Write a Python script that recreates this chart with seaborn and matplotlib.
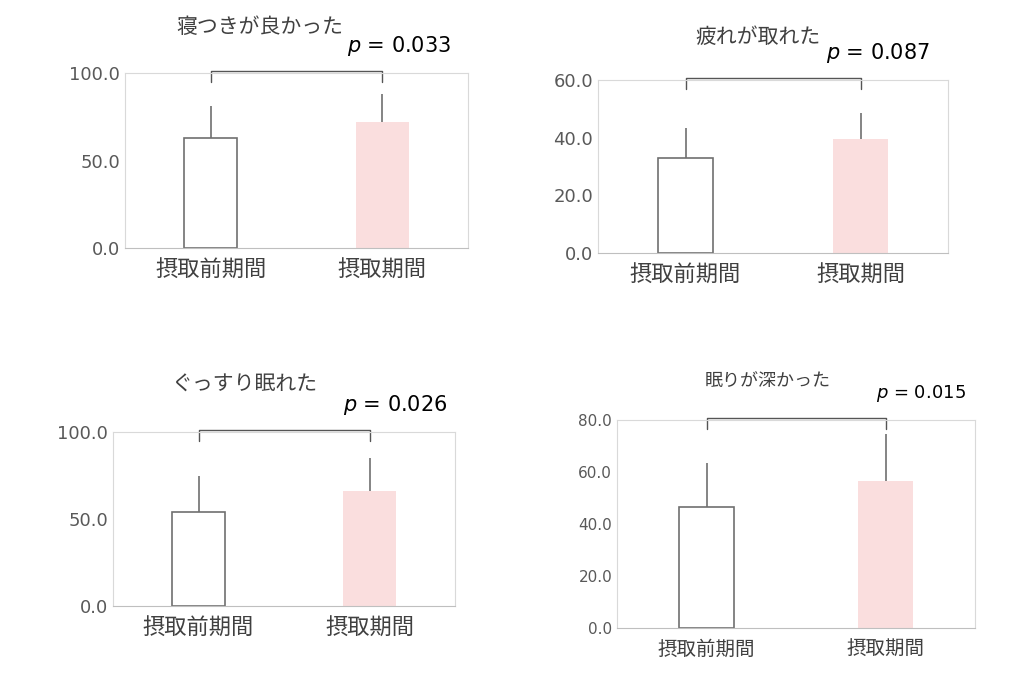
import matplotlib
matplotlib.use("Agg")
import matplotlib.pyplot as plt
import seaborn as sns
import pandas as pd

sns.set_style("white")
plt.rcParams["font.family"] = ["Noto Sans CJK JP", "Noto Sans CJK SC", "DejaVu Sans"]

periods = ["摂取前期間", "摂取期間"]
titles = ["寝つきが良かった", "疲れが取れた", "ぐっすり眠れた", "眠りが深かった"]
means = [[63.0, 72.0], [33.0, 39.5], [54.0, 66.0], [46.5, 56.5]]
errors = [[18.0, 16.0], [10.5, 9.0], [21.0, 19.0], [17.0, 18.0]]
p_values = ["0.033", "0.087", "0.026", "0.015"]
y_max = [100, 60, 100, 80]
y_step = [50, 20, 50, 20]

W, H = 1024, 690
# axes boxes in pixels: left, top, right, bottom
boxes = [(125, 73, 468, 248), (598, 80, 948, 253), (113, 432, 455, 606), (617, 420, 975, 628)]
title_pos = [(260, 27, 15), (758, 37, 15), (245, 385, 15), (768, 381, 13)]
xlab_size = [16, 16, 16, 14]
ylab_size = [13, 13, 13, 11]
text_x = [1.1, 1.1, 1.15, 1.2]
text_size = [15, 15, 15, 13]

fig = plt.figure(figsize=(W / 100, H / 100), dpi=100)
for i in range(4):
    l, t, r, b = boxes[i]
    ax = fig.add_axes([l / W, 1 - b / H, (r - l) / W, (b - t) / H])
    df = pd.DataFrame({"period": periods, "value": means[i]})
    sns.barplot(data=df, x="period", y="value", ax=ax, width=0.31,
                palette=["white", "#ffd9d9"], hue="period", legend=False)
    ax.patches[0].set_edgecolor("#707070")
    ax.patches[0].set_linewidth(1.2)
    ax.patches[1].set_edgecolor("none")
    ax.errorbar([0, 1], means[i], yerr=[[0, 0], errors[i]], fmt="none",
                ecolor="#707070", elinewidth=1.2, capsize=0)
    top = y_max[i]
    px = (b - t) / top
    y_br = top + 2 / px
    y_low = top - 9 / px
    ax.plot([0, 0, 1, 1], [y_low, y_br, y_br, y_low], color="#555555", lw=1, clip_on=False)
    ax.text(text_x[i], top + 27 / px, f"$p$ = {p_values[i]}", ha="center", va="center",
            fontsize=text_size[i], color="black", fontfamily="DejaVu Sans")
    ax.set_xlim(-0.5, 1.5)
    ax.set_ylim(0, top)
    ax.set_yticks(range(0, top + 1, y_step[i]))
    ax.set_yticklabels([f"{v:.1f}" for v in range(0, top + 1, y_step[i])],
                       fontsize=ylab_size[i], color="#595959", fontfamily="DejaVu Sans")
    ax.tick_params(axis="x", labelsize=xlab_size[i], labelcolor="#404040", length=0, pad=8)
    ax.tick_params(axis="y", length=0)
    ax.set_xlabel("")
    ax.set_ylabel("")
    for s in ax.spines.values():
        s.set_color("#d9d9d9")
    ax.spines["bottom"].set_color("#bfbfbf")
    tx, ty, ts = title_pos[i]
    fig.text(tx / W, 1 - ty / H, titles[i], ha="center", va="center", fontsize=ts, color="#404040")

fig.savefig("out.png", dpi=100)
